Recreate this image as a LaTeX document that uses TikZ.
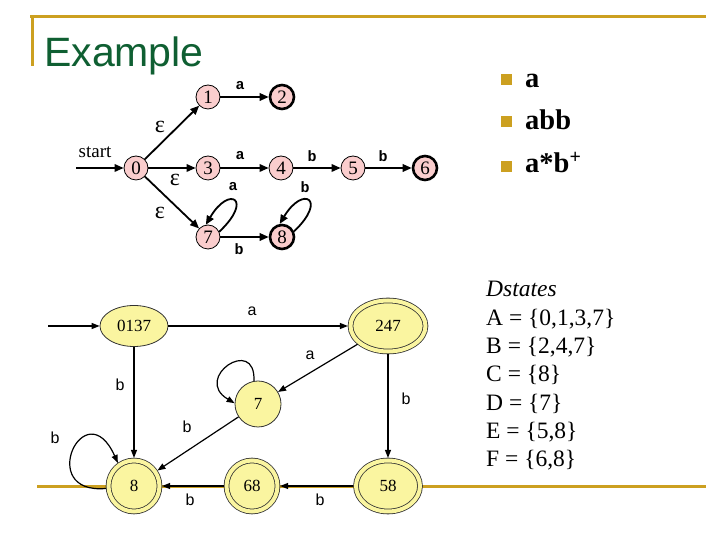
\documentclass[tikz,border=0pt]{standalone}
\usepackage{fontspec}
\setmainfont{Liberation Serif}
\setsansfont{Liberation Sans}
\setmonofont{Liberation Mono}
\usetikzlibrary{arrows.meta,shapes.geometric}
\definecolor{gold}{RGB}{204,160,32}
\definecolor{titlegreen}{RGB}{15,95,50}
\definecolor{nfafill}{RGB}{250,205,205}
\definecolor{dfafill}{RGB}{250,245,160}
\definecolor{dfaline}{RGB}{50,50,50}
\tikzset{
  goldline/.style={draw=gold, line width=3pt},
  nfastate/.style={circle, draw, fill=nfafill, line width=0.8pt, minimum size=24pt, inner sep=0pt, font=\fontsize{19}{19}\selectfont},
  nfaaccept/.style={nfastate, line width=2.6pt},
  nfaedge/.style={draw, line width=1.8pt, -{Triangle[length=9pt,width=7.5pt]}},
  nfalab/.style={font=\fontsize{15}{15}\selectfont\ttfamily\bfseries, inner sep=0pt},
  epslab/.style={font=\fontsize{24}{24}\selectfont, inner sep=0pt},
  dfastate/.style={draw=dfaline, fill=dfafill, line width=0.8pt, inner sep=0pt, font=\fontsize{17}{17}\selectfont},
  dfadouble/.style={dfastate, double=dfafill, double distance=4pt, outer sep=2.6pt},
  dfaedge/.style={draw, line width=1.2pt, -{Triangle[length=8pt,width=6pt]}},
  dfalab/.style={font=\fontsize{16}{16}\selectfont\sffamily, inner sep=0pt},
  bulletsq/.style={fill=gold, minimum size=11pt, inner sep=0pt},
  bullettext/.style={font=\fontsize{28.5}{28.5}\selectfont\bfseries, inner sep=0pt, anchor=base west},
  dsline/.style={font=\fontsize{23.5}{23.5}\selectfont, inner sep=0pt, anchor=base west}
}
\begin{document}
\begin{tikzpicture}[x=1pt,y=1pt]
\useasboundingbox (0,0) rectangle (720,540);
% frame
\draw[goldline] (30,523) -- (706,523);
\draw[goldline] (32,523) -- (32,474);
\draw[goldline] (37,53) -- (706,53);
\node[font=\fontsize{41}{41}\selectfont\sffamily, text=titlegreen, anchor=base west, inner sep=0pt] (title) at (44,473) {Example};

% NFA
\node[nfastate] (n0) at (136,372) {0};
\node[nfastate] (n1) at (208,443) {1};
\node[nfaaccept] (n2) at (282,443) {2};
\node[nfastate] (n3) at (208,372) {3};
\node[nfastate] (n4) at (281,372) {4};
\node[nfastate] (n5) at (353,372) {5};
\node[nfaaccept] (n6) at (425,372) {6};
\node[nfastate] (n7) at (208,303) {7};
\node[nfaaccept] (n8) at (282,303) {8};
\coordinate (nstart) at (76,372);
\node[font=\fontsize{19}{19}\selectfont, inner sep=0pt] (startlab) at (95,388) {start};
\draw[nfaedge] (nstart) -- (n0);
\draw[nfaedge] (n0) -- (n1);
\draw[nfaedge] (n0) -- (n3);
\draw[nfaedge] (n0) -- (n7);
\draw[nfaedge] (n1) -- (n2);
\draw[nfaedge] (n3) -- (n4);
\draw[nfaedge] (n4) -- (n5);
\draw[nfaedge] (n5) -- (n6);
\draw[nfaedge] (n7) -- (n8);
\draw[nfaedge] (n7.25) .. controls (254,341) and (229,355) .. (n7.100);
\draw[nfaedge] (n8.25) .. controls (328,341) and (303,355) .. (n8.100);
\node[epslab] (e1) at (160,413) {ε};
\node[epslab] (e2) at (175,360) {ε};
\node[epslab] (e3) at (160,327) {ε};
\node[nfalab] (l12) at (240,454) {a};
\node[nfalab] (l34) at (240,384) {a};
\node[nfalab] (l45) at (312,384) {b};
\node[nfalab] (l56) at (383,384) {b};
\node[nfalab] (l77) at (233,353) {a};
\node[nfalab] (l88) at (305,353) {b};
\node[nfalab] (l78) at (239,291) {b};

% bullets
\node[bulletsq] (bq1) at (506,460) {};
\node[bulletsq] (bq2) at (506,418) {};
\node[bulletsq] (bq3) at (506,373) {};
\node[bullettext] (bt1) at (525,452) {a};
\node[bullettext] (bt2) at (525,410) {abb};
\node[bullettext] (bt3) at (525,367) {a*b\textsuperscript{+}};

% Dstates
\node[dsline] (ds0) at (486,243) {\textit{Dstates}};
\node[dsline] (ds1) at (486,214.7) {A = \{0,1,3,7\}};
\node[dsline] (ds2) at (486,186.4) {B = \{2,4,7\}};
\node[dsline] (ds3) at (486,158.1) {C = \{8\}};
\node[dsline] (ds4) at (486,129.8) {D = \{7\}};
\node[dsline] (ds5) at (486,101.5) {E = \{5,8\}};
\node[dsline] (ds6) at (486,73.2) {F = \{6,8\}};

% DFA
\node[dfastate, ellipse, minimum width=68pt, minimum height=41pt] (dA) at (134,214) {0137};
\node[dfadouble, ellipse, minimum width=75pt, minimum height=51pt] (dB) at (388,214) {247};
\node[dfastate, circle, minimum size=46pt] (dD) at (258,136) {7};
\node[dfadouble, circle, minimum size=51pt] (dC) at (134,54) {8};
\node[dfadouble, circle, minimum size=51pt] (dF) at (252,54) {68};
\node[dfadouble, ellipse, minimum width=64pt, minimum height=51pt] (dE) at (388,54) {58};
\coordinate (dstart) at (48,214);
\draw[dfaedge] (dstart) -- (dA);
\draw[dfaedge] (dA) -- (dB);
\draw[dfaedge] (dB) -- (dD);
\draw[dfaedge] (dD) -- (dC);
\draw[dfaedge] (dA) -- (dC);
\draw[dfaedge] (dB) -- (dE);
\draw[dfaedge] (dE) -- (dF);
\draw[dfaedge] (dF) -- (dC);
\draw[dfaedge] (dD.100) .. controls (256,205) and (192,162) .. (dD.178);
\draw[dfaedge] (dC.185) .. controls (35,45) and (85,150) .. (dC.125);
\node[dfalab] (m1) at (252,229) {a};
\node[dfalab] (m2) at (310,185) {a};
\node[dfalab] (m3) at (120,155) {b};
\node[dfalab] (m4) at (406,141) {b};
\node[dfalab] (m5) at (187,113) {b};
\node[dfalab] (m6) at (55,102) {b};
\node[dfalab] (m7) at (190,40) {b};
\node[dfalab] (m8) at (320,40) {b};
\end{tikzpicture}
\end{document}
